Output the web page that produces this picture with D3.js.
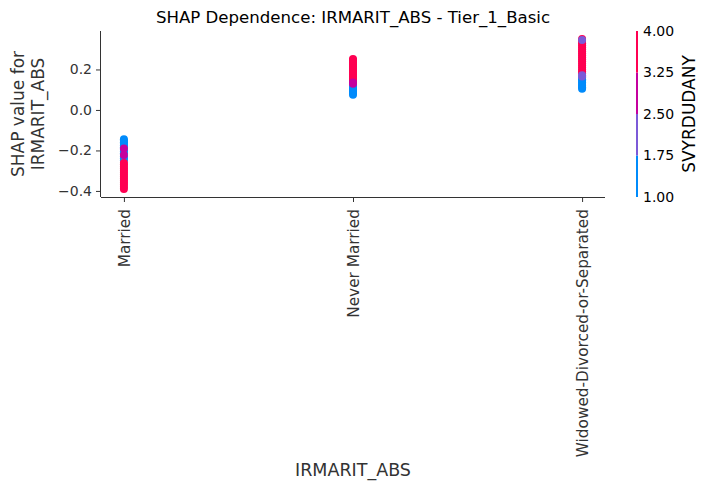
<!DOCTYPE html>
<html>
<head>
<meta charset="utf-8">
<script src="https://cdn.jsdelivr.net/npm/d3@7"></script>
<style>
  body { margin: 0; background: #fff; }
  text { font-family: "DejaVu Sans", sans-serif; }
</style>
</head>
<body>
<svg id="chart" width="709" height="489"></svg>
<script>
// categories on the x axis
const categories = ["Married", "Never Married", "Widowed-Divorced-or-Separated"];

// SHAP values per category, paired with the SVYRDUDANY value at the same index
const marriedShap = [-0.145, -0.152, -0.16, -0.168, -0.176, -0.184, -0.196, -0.205, -0.214, -0.23, -0.24, -0.25,
  -0.262, -0.27, -0.28, -0.29, -0.3, -0.31, -0.32, -0.33, -0.34, -0.35, -0.36, -0.37, -0.38, -0.39,
  -0.19, -0.222];
const marriedColor = [1, 1, 1, 1, 1, 1, 1, 1, 1, 1, 1, 1,
  4, 4, 4, 4, 4, 4, 4, 4, 4, 4, 4, 4, 4, 4,
  3, 3];

const neverShap = [0.075, 0.083, 0.091, 0.099, 0.107, 0.115, 0.123,
  0.145, 0.155, 0.165, 0.175, 0.185, 0.195, 0.205, 0.215, 0.225, 0.235, 0.245, 0.252,
  0.135, 0.13];
const neverColor = [1, 1, 1, 1, 1, 1, 1,
  4, 4, 4, 4, 4, 4, 4, 4, 4, 4, 4, 4,
  3, 3];

const widowedShap = [0.105, 0.112, 0.12, 0.128, 0.136, 0.144, 0.152, 0.16,
  0.18, 0.19, 0.2, 0.21, 0.22, 0.23, 0.24, 0.25, 0.26, 0.27, 0.28, 0.29, 0.3, 0.31, 0.32, 0.33, 0.34, 0.35,
  0.345, 0.172, 0.165];
const widowedColor = [1, 1, 1, 1, 1, 1, 1, 1,
  4, 4, 4, 4, 4, 4, 4, 4, 4, 4, 4, 4, 4, 4, 4, 4, 4, 4,
  2, 2, 2];

const yTicks = [0.2, 0.0, -0.2, -0.4];
const cbTicks = [1.0, 1.75, 2.5, 3.25, 4.0];
const cbColors = ["#008bfb", "#7c5ad8", "#c5009e", "#ff0052"];

const points = [];
[[marriedShap, marriedColor], [neverShap, neverColor], [widowedShap, widowedColor]].forEach(([s, c], i) => {
  s.forEach((v, j) => points.push({ x: i, y: v, c: c[j] }));
});

const svg = d3.select("#chart");
const axisColor = "#333333";
const m = { left: 101, right: 605, top: 31, bottom: 197 };

const x = d3.scaleLinear().domain([-0.1, 2.1]).range([m.left, m.right]);
const y = d3.scaleLinear().domain([-0.43, 0.39]).range([m.bottom, m.top]);
const color = d3.scaleThreshold().domain([1.75, 2.5, 3.25]).range(cbColors);

// points
svg.append("g")
  .selectAll("circle")
  .data(points)
  .join("circle")
  .attr("cx", (d) => x(d.x))
  .attr("cy", (d) => y(d.y))
  .attr("r", 4)
  .attr("fill", (d) => color(d.c));

// y axis
const yAxis = svg.append("g")
  .attr("transform", `translate(${m.left},0)`)
  .call(d3.axisLeft(y).tickValues(yTicks).tickSize(5).tickPadding(4)
    .tickFormat((d) => d3.format(".1f")(d).replace("-", "\u2212")));
yAxis.select(".domain").attr("d", `M-0.5,${m.top}V${m.bottom}`);

// x axis
const xAxis = svg.append("g")
  .attr("transform", `translate(0,${m.bottom})`)
  .call(d3.axisBottom(x).tickValues([0, 1, 2]).tickSize(5)
    .tickFormat((d) => categories[d]));
xAxis.select(".domain").attr("d", `M${m.left},0.5H${m.right}`);
xAxis.selectAll(".tick text")
  .attr("transform", "rotate(-90)")
  .attr("text-anchor", "end")
  .attr("x", -12)
  .attr("y", 0)
  .attr("dy", "0.35em")
  .style("font-size", "15.3px");

[yAxis, xAxis].forEach((g) => {
  g.selectAll(".domain, .tick line").attr("stroke", axisColor);
  g.selectAll(".tick text").attr("fill", axisColor);
});
yAxis.selectAll(".tick text").style("font-size", "14px");

// title
svg.append("text")
  .attr("x", (m.left + m.right) / 2)
  .attr("y", 23)
  .attr("text-anchor", "middle")
  .style("font-size", "16.6px")
  .attr("fill", "#000")
  .text("SHAP Dependence: IRMARIT_ABS - Tier_1_Basic");

// axis labels
svg.append("text")
  .attr("x", (m.left + m.right) / 2)
  .attr("y", 476)
  .attr("text-anchor", "middle")
  .style("font-size", "17.5px")
  .attr("fill", axisColor)
  .text("IRMARIT_ABS");

const yl = svg.append("text")
  .attr("transform", `translate(24,${(m.top + m.bottom) / 2}) rotate(-90)`)
  .attr("text-anchor", "middle")
  .style("font-size", "17px")
  .attr("fill", axisColor);
yl.append("tspan").attr("x", 0).attr("dy", 0).text("SHAP value for");
yl.append("tspan").attr("x", 0).attr("dy", "1.2em").text("IRMARIT_ABS");

// colorbar
const cb = d3.scaleLinear().domain([1, 4]).range([m.bottom, m.top]);
const cbx = 636;
svg.append("g")
  .selectAll("rect")
  .data(cbColors)
  .join("rect")
  .attr("x", cbx)
  .attr("width", 2)
  .attr("y", (d, i) => cb(1 + 0.75 * (i + 1)))
  .attr("height", cb(1) - cb(1.75))
  .attr("fill", (d) => d);

svg.append("g")
  .selectAll("text")
  .data(cbTicks)
  .join("text")
  .attr("x", cbx + 7)
  .attr("y", (d) => cb(d))
  .attr("dy", "0.35em")
  .style("font-size", "14px")
  .attr("fill", "#000")
  .text((d) => d3.format(".2f")(d));

svg.append("text")
  .attr("transform", `translate(695,${(m.top + m.bottom) / 2}) rotate(-90)`)
  .attr("text-anchor", "middle")
  .style("font-size", "17px")
  .attr("fill", "#000")
  .text("SVYRDUDANY");
</script>
</body>
</html>
